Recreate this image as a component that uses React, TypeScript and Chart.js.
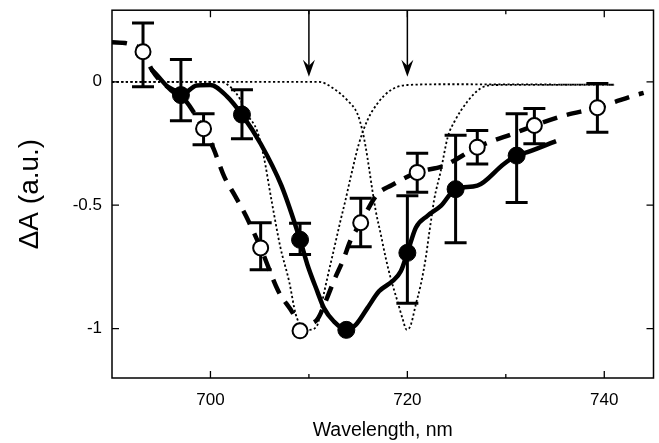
import React, { useEffect, useRef } from 'react';
import { Chart, registerables } from 'chart.js';

Chart.register(...registerables);

// Axis ticks
const xTicks = [700, 720, 740];
const xMinorTicks = [710, 730];
const yTicks = [0, -0.5, -1];
const yTickLabels = ['0', '-0.5', '-1'];

// Filled circles (solid line) with error bars
const filledX = [697.0, 703.2, 709.1, 713.8, 720.0, 724.9, 731.1];
const filledY = [-0.054, -0.133, -0.64, -1.005, -0.693, -0.435, -0.299];
const filledErrHi = [0.09, -0.032, -0.573, -1.005, -0.462, -0.217, -0.129];
const filledErrLo = [-0.158, -0.231, -0.7, -1.005, -0.897, -0.652, -0.489];

// Open circles (dashed line) with error bars
const openX = [693.15, 699.3, 705.1, 709.1, 715.26, 721.0, 727.1, 732.9, 739.3];
const openY = [0.122, -0.19, -0.673, -1.009, -0.571, -0.367, -0.265, -0.177, -0.105];
const openErrHi = [0.238, -0.129, -0.571, -1.009, -0.472, -0.29, -0.197, -0.108, -0.007];
const openErrLo = [-0.02, -0.255, -0.761, -1.009, -0.668, -0.447, -0.333, -0.251, -0.204];

// Solid curve through filled points
const solidX = [694.0, 697.0, 698.6, 700.0, 701.7, 703.2, 705.1, 707.2, 709.1, 709.84, 710.85, 711.53, 712.54, 713.8, 714.75, 715.94, 717.12, 718.48, 719.33, 720.0, 720.86, 722.04, 723.4, 724.9, 727.1, 729.8, 731.1, 732.2, 735.1];
const solidY = [0.05, -0.054, -0.015, -0.013, -0.06, -0.133, -0.251, -0.42, -0.64, -0.74, -0.849, -0.917, -0.971, -1.005, -0.985, -0.917, -0.849, -0.808, -0.768, -0.693, -0.591, -0.543, -0.503, -0.435, -0.421, -0.333, -0.299, -0.285, -0.24];

// Dashed curve through open points
const dashedX = [690.0, 691.6, 693.15, 694.05, 695.2, 697.0, 699.3, 700.3, 701.4, 702.5, 703.6, 705.1, 706.9, 708.6, 709.1, 710.0, 710.9, 711.8, 712.6, 713.5, 714.2, 715.26, 716.9, 718.4, 721.0, 723.7, 727.1, 728.6, 730.7, 732.9, 735.9, 739.3, 741.1, 743.0, 744.0];
const dashedY = [0.16, 0.155, 0.122, 0.048, -0.007, -0.054, -0.19, -0.27, -0.384, -0.462, -0.543, -0.673, -0.849, -0.955, -1.009, -0.985, -0.96, -0.88, -0.8, -0.72, -0.645, -0.571, -0.458, -0.419, -0.367, -0.34, -0.265, -0.24, -0.211, -0.177, -0.137, -0.105, -0.081, -0.056, -0.045];

// Dotted band centred at 710 nm
const dot1X = [690, 701, 702, 703, 703.7, 704.75, 705.4, 706.2, 707.1, 708.0, 708.65, 709.2, 710.0, 710.8, 711.1, 711.36, 711.87, 712.5, 713.2, 713.7, 714.24, 715.08, 715.94, 716.96, 718.3, 720.0, 724, 741];
const dot1Y = [0, 0, -0.02, -0.07, -0.13, -0.2, -0.3, -0.48, -0.67, -0.81, -0.94, -0.99, -1.005, -0.99, -0.95, -0.89, -0.795, -0.686, -0.564, -0.482, -0.387, -0.251, -0.156, -0.088, -0.034, -0.013, -0.01, -0.012];

// Dotted band centred at 720 nm
const dot2X = [690, 711, 712.5, 713.9, 714.92, 715.43, 715.77, 716.1, 716.45, 716.79, 717.3, 717.8, 718.3, 719.0, 719.5, 719.94, 720.35, 720.85, 721.36, 721.87, 722.2, 722.55, 722.7, 723.4, 724.1, 724.8, 726.1, 727.5, 729, 741];
const dot2Y = [0, 0, -0.027, -0.075, -0.129, -0.197, -0.265, -0.347, -0.441, -0.523, -0.618, -0.713, -0.795, -0.89, -0.958, -1.005, -0.985, -0.903, -0.822, -0.713, -0.618, -0.523, -0.482, -0.36, -0.224, -0.16, -0.08, -0.025, -0.013, -0.012];

// Arrows marking the band positions
const arrowX = [710, 720];
const arrowTipY = 0.02;

const toPts = (xs: number[], ys: number[]) => xs.map((x, i) => ({ x, y: ys[i] }));

const FONT = "'Liberation Sans', Arial, Helvetica, sans-serif";

const decorPlugin = {
  id: 'decor',
  beforeDatasetsDraw(chart: any) {
    const { ctx, chartArea: a, scales } = chart;
    const x = scales.x, y = scales.y;
    ctx.save();
    ctx.strokeStyle = '#000';
    ctx.lineWidth = 1.5;
    ctx.strokeRect(a.left, a.top, a.right - a.left, a.bottom - a.top);
    ctx.lineWidth = 1.3;
    ctx.beginPath();
    xTicks.forEach((v) => {
      const p = x.getPixelForValue(v);
      ctx.moveTo(p, a.bottom); ctx.lineTo(p, a.bottom - 7);
      ctx.moveTo(p, a.top); ctx.lineTo(p, a.top + 7);
    });
    xMinorTicks.forEach((v) => {
      const p = x.getPixelForValue(v);
      ctx.moveTo(p, a.bottom); ctx.lineTo(p, a.bottom - 4);
      ctx.moveTo(p, a.top); ctx.lineTo(p, a.top + 4);
    });
    yTicks.forEach((v) => {
      const p = y.getPixelForValue(v);
      ctx.moveTo(a.left, p); ctx.lineTo(a.left + 7, p);
      ctx.moveTo(a.right, p); ctx.lineTo(a.right - 7, p);
    });
    ctx.stroke();
    ctx.restore();
  },
  beforeDatasetDraw(chart: any, args: any) {
    if (args.index !== 1) return;
    const { ctx, scales } = chart;
    const x = scales.x, y = scales.y;
    ctx.save();
    ctx.strokeStyle = '#000';
    ctx.lineWidth = 3;
    ctx.lineCap = 'butt';
    const draw = (xs: number[], hi: number[], lo: number[]) => {
      xs.forEach((xv, i) => {
        if (hi[i] === lo[i]) return;
        const px = x.getPixelForValue(xv);
        const pt = y.getPixelForValue(hi[i]);
        const pb = y.getPixelForValue(lo[i]);
        ctx.beginPath();
        ctx.moveTo(px, pt); ctx.lineTo(px, pb);
        ctx.moveTo(px - 11, pt); ctx.lineTo(px + 11, pt);
        ctx.moveTo(px - 11, pb); ctx.lineTo(px + 11, pb);
        ctx.stroke();
      });
    };
    draw(openX, openErrHi, openErrLo);
    draw(filledX, filledErrHi, filledErrLo);
    ctx.restore();
  },
  afterDatasetsDraw(chart: any) {
    const { ctx, chartArea: a, scales } = chart;
    const x = scales.x, y = scales.y;
    ctx.save();
    ctx.strokeStyle = '#000';
    ctx.fillStyle = '#000';
    ctx.lineWidth = 1.5;
    arrowX.forEach((v) => {
      const px = x.getPixelForValue(v);
      const tip = y.getPixelForValue(arrowTipY);
      ctx.beginPath();
      ctx.moveTo(px, a.top);
      ctx.lineTo(px, tip - 8);
      ctx.stroke();
      ctx.beginPath();
      ctx.moveTo(px, tip);
      ctx.lineTo(px - 6, tip - 17);
      ctx.lineTo(px, tip - 11);
      ctx.lineTo(px + 6, tip - 17);
      ctx.closePath();
      ctx.fill();
    });
    ctx.restore();
  },
};

export default function App() {
  const ref = useRef<HTMLCanvasElement | null>(null);

  useEffect(() => {
    if (!ref.current) return;
    const chart = new Chart(ref.current, {
      type: 'scatter',
      data: {
        datasets: [
          {
            data: toPts(filledX, filledY),
            showLine: false,
            pointRadius: 8.5,
            pointBackgroundColor: '#000',
            pointBorderColor: '#000',
            pointBorderWidth: 1,
          },
          {
            data: toPts(openX, openY),
            showLine: false,
            pointRadius: 7.5,
            pointBackgroundColor: '#fff',
            pointBorderColor: '#000',
            pointBorderWidth: 2,
          },
          {
            data: toPts(solidX, solidY),
            showLine: true,
            pointRadius: 0,
            borderColor: '#000',
            borderWidth: 4.5,
            cubicInterpolationMode: 'monotone',
            borderJoinStyle: 'round',
          },
          {
            data: toPts(dashedX, dashedY),
            showLine: true,
            pointRadius: 0,
            borderColor: '#000',
            borderWidth: 4.5,
            borderDash: [15, 10],
            cubicInterpolationMode: 'monotone',
          },
          {
            data: toPts(dot1X, dot1Y),
            showLine: true,
            pointRadius: 0,
            borderColor: '#000',
            borderWidth: 1.8,
            borderDash: [2.2, 2.4],
            cubicInterpolationMode: 'monotone',
          },
          {
            data: toPts(dot2X, dot2Y),
            showLine: true,
            pointRadius: 0,
            borderColor: '#000',
            borderWidth: 1.8,
            borderDash: [2.2, 2.4],
            cubicInterpolationMode: 'monotone',
          },
        ],
      },
      options: {
        responsive: false,
        animation: false,
        devicePixelRatio: 1,
        events: [],
        layout: { padding: { top: 0, right: 2, bottom: 0, left: 0 } },
        plugins: { legend: { display: false }, tooltip: { enabled: false } },
        scales: {
          x: {
            type: 'linear',
            min: 690,
            max: 745,
            grid: { display: false, drawTicks: false },
            border: { display: false },
            afterBuildTicks: (s: any) => { s.ticks = xTicks.map((v) => ({ value: v })); },
            afterFit: (s: any) => { s.height = 65; },
            ticks: {
              padding: 12,
              color: '#000',
              font: { family: FONT, size: 17 },
              callback: (v: any) => String(v),
            },
            title: {
              display: true,
              text: 'Wavelength, nm',
              color: '#000',
              font: { family: FONT, size: 19.5 },
              padding: { top: 0, bottom: 1 },
            },
          },
          y: {
            type: 'linear',
            min: -1.2,
            max: 0.29,
            grid: { display: false, drawTicks: false },
            border: { display: false },
            afterBuildTicks: (s: any) => { s.ticks = yTicks.map((v) => ({ value: v })); },
            afterFit: (s: any) => { s.width = 112; },
            ticks: {
              padding: 10,
              color: '#000',
              font: { family: FONT, size: 17 },
              callback: (v: any) => {
                const i = yTicks.indexOf(v);
                return i >= 0 ? yTickLabels[i] : '';
              },
            },
            title: {
              display: true,
              text: 'ΔA (a.u.)',
              color: '#000',
              font: { family: FONT, size: 28 },
              padding: { top: 13, bottom: 0 },
            },
          },
        },
      },
      plugins: [decorPlugin],
    } as any);
    return () => chart.destroy();
  }, []);

  return (
    <div style={{ position: 'fixed', left: 0, top: 0, width: 659, height: 443, overflow: 'hidden', background: '#fff' }}>
      <canvas
        ref={ref}
        width={663}
        height={453}
        style={{ display: 'block', position: 'absolute', left: 0, top: -10 }}
      />
    </div>
  );
}
